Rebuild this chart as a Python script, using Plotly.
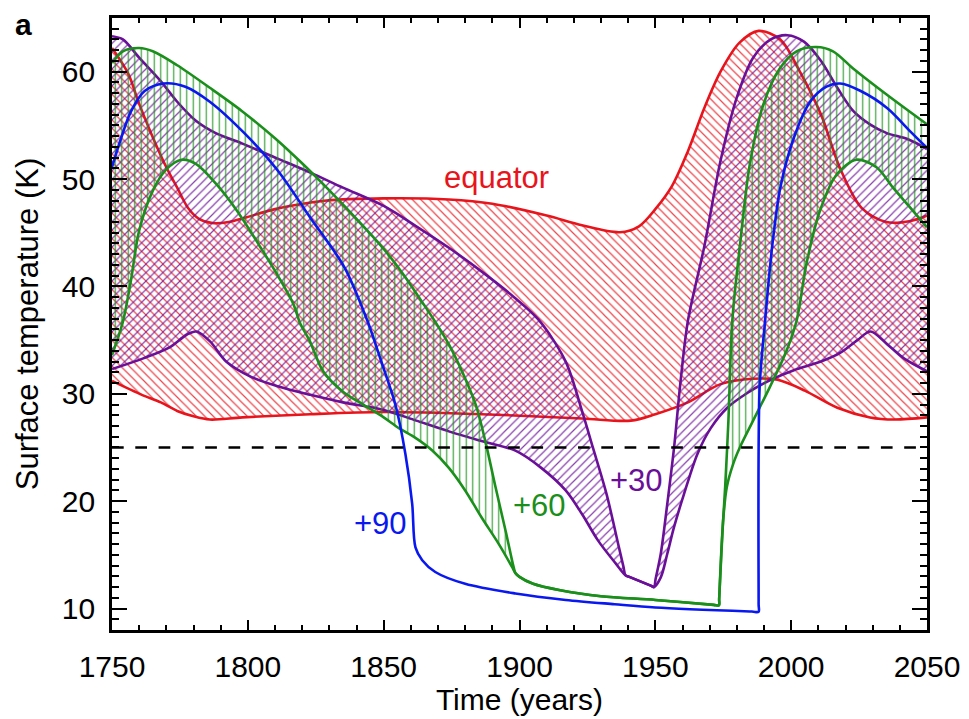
import plotly.graph_objects as go

# ---------------- data ----------------
EQ_UP_YEAR = [1750, 1756, 1760, 1765, 1770, 1774, 1778, 1782, 1787, 1793, 1799, 1810, 1829, 1850,
              1874, 1890, 1910, 1923, 1937, 1944, 1950, 1956, 1962, 1968, 1974, 1981, 1988, 1996,
              2003, 2011, 2018, 2026, 2035, 2044, 2050]
EQ_UP_K = [62.2, 59.8, 57.0, 53.9, 51.1, 49.2, 47.3, 46.3, 45.9, 46.0, 46.4, 47.2, 48.0, 48.2,
           48.1, 47.7, 46.6, 45.7, 45.05, 45.6, 47.2, 49.3, 52.6, 56.6, 60.0, 62.7, 63.8, 63.0,
           60.1, 56.0, 51.0, 47.3, 46.0, 46.1, 46.6]

EQ_LO_YEAR = [1750, 1761, 1768, 1774, 1780, 1786, 1798, 1823, 1850, 1886, 1923, 1941, 1950, 1962,
              1974, 1986, 1995, 2005, 2017, 2029, 2038, 2050]
EQ_LO_K = [31.2, 29.9, 29.2, 28.4, 27.9, 27.6, 27.8, 28.1, 28.3, 28.1, 27.7, 27.5, 28.1, 29.2,
           30.9, 31.4, 31.3, 30.3, 28.7, 27.8, 27.6, 27.8]

P30_UP_YEAR = [1750, 1754, 1760, 1768, 1774, 1781, 1788, 1798, 1811, 1823, 1835, 1850, 1862, 1874,
               1886, 1898, 1907, 1917, 1923, 1927, 1932, 1936.6, 1938.3, 1939, 1940.2, 1948.3,
               1949.5, 1950.1, 1952, 1954.4, 1956.9, 1959.3, 1962, 1968, 1974, 1980, 1986, 1992.5,
               1998.6, 2004.7, 2011, 2017, 2023, 2029, 2035, 2043, 2050]
P30_UP_K = [63.3, 63.0, 61.3, 59.1, 57.2, 55.4, 54.3, 53.3, 51.9, 50.6, 49.2, 47.5, 45.6, 43.6,
            41.4, 39.0, 36.9, 33.0, 28.4, 25.0, 20.7, 15.7, 13.86, 13.1, 12.97, 12.13,
            12.0, 12.75, 15.1, 19.75, 25.0, 31.2, 36.8, 43.7, 51.7, 57.6, 61.3, 63.0,
            63.4, 62.8, 61.0, 58.5, 56.3, 55.1, 54.3, 53.7, 52.8]

P30_LO_YEAR = [1750, 1761.5, 1771, 1777.5, 1781, 1786, 1792, 1801, 1811, 1823, 1835, 1850, 1862,
               1874, 1886, 1898.5, 1908, 1917, 1923, 1929, 1935.4, 1939, 1940.2, 1948.3, 1949.5,
               1952, 1954.4, 1956.9, 1960.6, 1965.5, 1970.4, 1976.5, 1984, 1992.5, 2001, 2011,
               2018, 2024.4, 2029.2, 2035.4, 2041.5, 2050]
P30_LO_K = [32.3, 33.3, 34.3, 35.5, 35.8, 34.9, 33.0, 31.6, 30.7, 29.9, 29.2, 28.5, 27.5,
            26.5, 25.6, 24.7, 23.1, 21.0, 18.8, 16.3, 14.2, 13.1, 12.97, 12.13, 12.0,
            12.9, 15.1, 17.6, 20.7, 24.4, 26.8, 28.7, 30.1, 31.3, 32.2, 33.0,
            33.8, 35.0, 35.8, 34.6, 33.3, 32.1]

G60_UP_YEAR = [1750, 1754, 1760, 1765, 1774, 1786, 1798, 1810, 1819, 1829, 1840, 1850, 1857, 1864,
               1869, 1874, 1879, 1884, 1887.5, 1891, 1895, 1897.8, 1898.5, 1900, 1905, 1915, 1930,
               1950, 1971.5, 1973.4, 1973.5, 1974.9, 1975.7, 1976.9, 1978.3, 1981.1, 1984.8,
               1989.7, 1995.8, 2002, 2009.3, 2015.4, 2022.8, 2035, 2050]
G60_UP_K = [60.8, 61.9, 62.2, 61.9, 60.6, 58.5, 56.3, 53.8, 51.7, 49.2, 46.3, 43.5, 41.2, 38.6,
            36.7, 34.6, 32.0, 28.9, 25.5, 21.5, 17.1, 13.9, 13.3, 12.95, 12.3, 11.7, 11.15,
            10.8, 10.34, 10.3, 10.9, 18.0, 21.3, 27.5, 36.7, 43.7, 51.4,
            56.9, 60.3, 61.9, 62.3, 61.9, 60.3, 57.9, 55.1]

G60_LO_YEAR = [1750, 1754, 1757, 1760, 1765, 1770, 1775.6, 1781, 1788.5, 1796, 1804.5, 1810.6,
               1816.7, 1819.2, 1822.8, 1827.7, 1835, 1842.4, 1850, 1855.6, 1861.7, 1868, 1874,
               1880, 1886, 1892.4, 1897.2, 1898.5, 1900, 1905, 1915, 1930, 1950, 1971.5, 1973.4,
               1973.5, 1974.9, 1976.3, 1978.7, 1981.1, 1986, 1992.1, 1998.3, 2002, 2005.7,
               2010.6, 2016.7, 2024, 2031.4, 2037.5, 2043.6, 2050]
G60_LO_K = [33.6, 36.7, 40.6, 45.2, 48.9, 50.9, 51.8, 51.4, 49.5, 47.05, 43.7, 41.2,
            38.4, 36.6, 34.9, 32.1, 30.2, 29.0, 27.8, 26.8, 25.9, 24.7, 23.1,
            21.0, 18.5, 16.0, 13.9, 13.3, 12.95, 12.3, 11.7, 11.15, 10.8, 10.34, 10.3,
            10.9, 18.0, 21.3, 23.5, 25.0, 27.5, 30.6, 34.0, 36.8, 42.2,
            47.05, 50.4, 51.8, 51.1, 49.2, 47.4, 45.5]

B90_YEAR = [1750, 1753.4, 1757, 1762, 1769, 1777, 1786, 1799, 1811, 1823, 1835.5, 1844, 1849,
            1854.3, 1858, 1860.5, 1861.7, 1864.2, 1869, 1880, 1898.5, 1917, 1935, 1950, 1985.5,
            1988, 1988.02, 1988.4, 1990.4, 1993, 1996, 2001, 2007, 2013, 2018, 2025.6, 2035.4,
            2044, 2050]
B90_K = [51.1, 53.85, 56.3, 58.2, 58.9, 58.6, 57.2, 54.2, 50.8, 46.4, 41.8, 36.8, 33.1,
         29.0, 24.4, 19.75, 15.7, 14.5, 13.4, 12.3, 11.4, 10.8, 10.4, 10.1, 9.72,
         9.7, 10.4, 30.6, 36.8, 43.7, 49.2, 53.85, 57.2, 58.6, 58.9, 58.2, 56.6,
         54.4, 52.9]

THRESHOLD_K = 25
X_TICKS = [1750, 1800, 1850, 1900, 1950, 2000, 2050]
Y_TICKS = [10, 20, 30, 40, 50, 60]

LABELS = ["equator", "+30", "+60", "+90"]
LABEL_POS = [(1891.7, 50.1), (1942.9, 21.9), (1907.3, 19.6), (1848.8, 17.9)]

# ---------------- styles ----------------
RED = "#e8141c"
PURPLE = "#6a0f98"
GREEN = "#1b8f1b"
BLUE = "#0a18f0"
FONT = "Liberation Sans, Arial, Helvetica, sans-serif"
LW = 2.6

fig = go.Figure()


def band(xlo, ylo, xup, yup, color, shape, size):
    fig.add_trace(go.Scatter(x=xlo, y=ylo, mode="lines",
                             line=dict(color=color, width=LW, shape="spline", smoothing=0.9),
                             hoverinfo="skip"))
    fig.add_trace(go.Scatter(x=xup, y=yup, mode="lines",
                             line=dict(color=color, width=LW, shape="spline", smoothing=0.9),
                             fill="tonexty", fillcolor="rgba(0,0,0,0)",
                             fillpattern=dict(shape=shape, size=size, solidity=0.2,
                                              fgcolor=color, fgopacity=0.8,
                                              bgcolor="rgba(0,0,0,0)", fillmode="replace"),
                             hoverinfo="skip"))


band(EQ_LO_YEAR, EQ_LO_K, EQ_UP_YEAR, EQ_UP_K, RED, "\\", 6)
band(P30_LO_YEAR, P30_LO_K, P30_UP_YEAR, P30_UP_K, PURPLE, "/", 6)
band(G60_LO_YEAR, G60_LO_K, G60_UP_YEAR, G60_UP_K, GREEN, "|", 6.5)
fig.add_trace(go.Scatter(x=B90_YEAR, y=B90_K, mode="lines",
                         line=dict(color=BLUE, width=LW, shape="spline", smoothing=0.9),
                         hoverinfo="skip"))

fig.add_hline(y=THRESHOLD_K, line=dict(color="black", width=2.6, dash="11.7px,11.6px"))

for txt, (lx, ly), col in zip(LABELS, LABEL_POS, [RED, PURPLE, GREEN, BLUE]):
    fig.add_annotation(x=lx, y=ly, text=txt, showarrow=False, xanchor="center", yanchor="middle",
                       font=dict(family=FONT, size=31, color=col))

fig.add_annotation(x=-0.1086, y=0.99, xref="paper", yref="paper", text="<b>a</b>",
                   showarrow=False, xanchor="center", yanchor="middle",
                   font=dict(family=FONT, size=30, color="black"))

axis_common = dict(showline=True, linecolor="black", linewidth=2.6, mirror="allticks",
                   ticks="inside", tickcolor="black", tickwidth=2, showgrid=False,
                   zeroline=False, tickfont=dict(family=FONT, size=30, color="black"))

fig.update_xaxes(range=[1750, 2050], tickvals=X_TICKS, ticklen=10,
                 minor=dict(dtick=10, tick0=1750, ticklen=5, tickwidth=2, tickcolor="black",
                            ticks="inside"),
                 title=dict(text="Time (years)", font=dict(family=FONT, size=30, color="black"),
                            standoff=2),
                 ticklabelstandoff=8, **axis_common)
fig.update_yaxes(range=[8, 65], tickvals=Y_TICKS, ticklen=15,
                 minor=dict(dtick=1, tick0=0, ticklen=7, tickwidth=2, tickcolor="black",
                            ticks="inside"),
                 title=dict(text="Surface temperature (K)",
                            font=dict(family=FONT, size=31, color="black"), standoff=14),
                 ticklabelstandoff=8, **axis_common)

# page body has an 8px margin: shift the figure box accordingly
fig.update_layout(width=961, height=711, margin=dict(l=104, r=42, t=7, b=89),
                  plot_bgcolor="white", paper_bgcolor="white", showlegend=False,
                  font=dict(family=FONT))

fig.write_html("out.html")
